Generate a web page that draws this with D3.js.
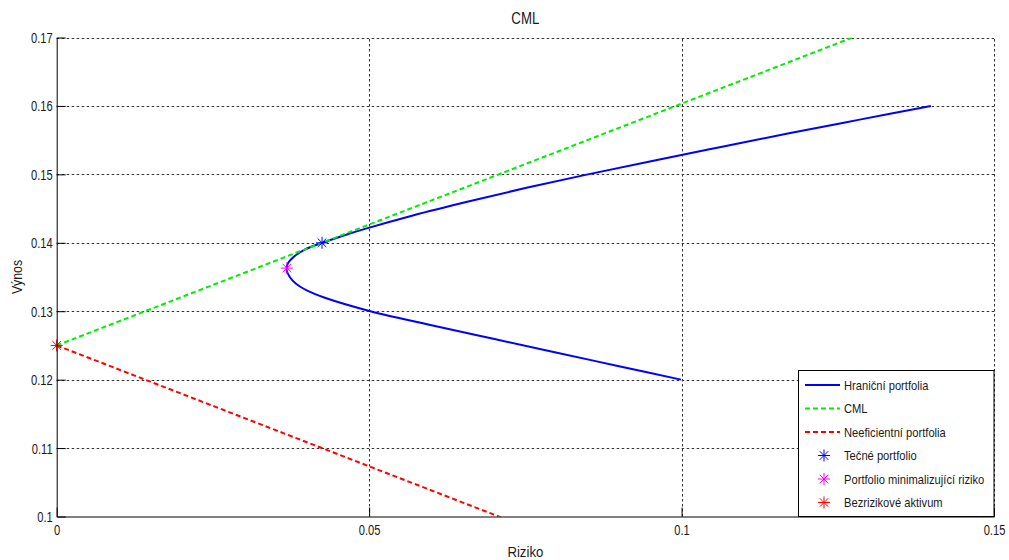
<!DOCTYPE html>
<html>
<head>
<meta charset="utf-8">
<script src="https://cdn.jsdelivr.net/npm/d3@7"></script>
<style>
  html, body { margin: 0; padding: 0; background: #fff; }
  svg { display: block; }
  text { font-family: "Liberation Sans", Arial, sans-serif; fill: #1a1a1a; }
</style>
</head>
<body>
<svg id="chart" width="1009" height="560"></svg>
<script>
// Efficient frontier (risk vs. return), capital market line and inefficient line
const xTickValues = [0, 0.05, 0.1, 0.15];
const xTickLabels = ["0", "0.05", "0.1", "0.15"];
const yTickValues = [0.1, 0.11, 0.12, 0.13, 0.14, 0.15, 0.16, 0.17];
const yTickLabels = ["0.1", "0.11", "0.12", "0.13", "0.14", "0.15", "0.16", "0.17"];

const frontierReturn = [0.120, 0.122, 0.124, 0.126, 0.128, 0.130, 0.132, 0.133, 0.134, 0.135,
                        0.136, 0.137, 0.138, 0.139, 0.140, 0.141, 0.142, 0.144, 0.146, 0.148,
                        0.150, 0.152, 0.154, 0.156, 0.158, 0.160];
const frontierRisk   = [0.0999, 0.0898, 0.0797, 0.0697, 0.0598, 0.0502, 0.0428, 0.0401, 0.0383, 0.0373,
                        0.0368, 0.0370, 0.0380, 0.0397, 0.0425, 0.0457, 0.0492, 0.0570, 0.0657, 0.0750,
                        0.0850, 0.0955, 0.1063, 0.1172, 0.1285, 0.1399];

const cmlRisk = [0, 0.15];
const cmlReturn = [0.125, 0.178];
const ineffRisk = [0, 0.15];
const ineffReturn = [0.125, 0.072];

const pointNames  = ["Tečné portfolio", "Portfolio minimalizující riziko", "Bezrizikové aktivum"];
const pointRisk   = [0.04246, 0.03685, 0];
const pointReturn = [0.1400, 0.1363, 0.125];
const pointColors = ["#0000ff", "#ff00ff", "#ff0000"];

const lineNames  = ["Hraniční portfolia", "CML", "Neeficientní portfolia"];
const lineColors = ["#0000ff", "#00ee00", "#ff0000"];
const lineDashes = [null, "5,3", "5,3"];

const svg = d3.select("#chart");
const plot = { left: 56.7, right: 994, top: 37.5, bottom: 516.5 };

const x = d3.scaleLinear().domain([0, 0.15]).range([plot.left, plot.right]);
const y = d3.scaleLinear().domain([0.1, 0.17]).range([plot.bottom, plot.top]);

svg.append("defs").append("clipPath").attr("id", "plot-clip")
  .append("rect")
  .attr("x", plot.left).attr("y", plot.top)
  .attr("width", plot.right - plot.left).attr("height", plot.bottom - plot.top);

// dotted grid
const grid = svg.append("g").attr("stroke", "#333").attr("stroke-width", 1)
  .attr("stroke-dasharray", "2.5,2.5");
grid.selectAll("line.gx").data(xTickValues.slice(1)).join("line")
  .attr("x1", d => Math.round(x(d)) + 0.5).attr("x2", d => Math.round(x(d)) + 0.5)
  .attr("y1", plot.bottom).attr("y2", plot.top);
grid.selectAll("line.gy").data(yTickValues.slice(1)).join("line")
  .attr("y1", d => Math.round(y(d)) + 0.5).attr("y2", d => Math.round(y(d)) + 0.5)
  .attr("x1", plot.left).attr("x2", plot.right);

// data lines
const lines = svg.append("g").attr("clip-path", "url(#plot-clip)").attr("fill", "none");
const line = d3.line().x(d => x(d[0])).y(d => y(d[1]));
const lineCurve = d3.line().x(d => x(d[0])).y(d => y(d[1])).curve(d3.curveCatmullRom);

lines.append("path")
  .attr("d", lineCurve(d3.zip(frontierRisk, frontierReturn)))
  .attr("stroke", lineColors[0]).attr("stroke-width", 2);
lines.append("path")
  .attr("d", line(d3.zip(cmlRisk, cmlReturn)))
  .attr("stroke", lineColors[1]).attr("stroke-width", 2).attr("stroke-dasharray", lineDashes[1]);
lines.append("path")
  .attr("d", line(d3.zip(ineffRisk, ineffReturn)))
  .attr("stroke", lineColors[2]).attr("stroke-width", 2).attr("stroke-dasharray", lineDashes[2]);

// asterisk marker
function star(g, cx, cy, color) {
  const r = 6, q = 4.3;
  const s = g.append("g").attr("stroke", color).attr("stroke-width", 1);
  [[-r, 0, r, 0], [0, -r, 0, r], [-q, -q, q, q], [-q, q, q, -q]].forEach(a => {
    s.append("line").attr("x1", cx + a[0]).attr("y1", cy + a[1])
      .attr("x2", cx + a[2]).attr("y2", cy + a[3]);
  });
}
const marks = svg.append("g");
pointRisk.forEach((r, i) => star(marks, x(r), y(pointReturn[i]), pointColors[i]));

// axes (left and bottom), ticks pointing inward
const tickSx = 0.72;
const yAxis = d3.axisLeft(y).tickValues(yTickValues)
  .tickFormat((d, i) => yTickLabels[i]).tickSizeInner(-9).tickSizeOuter(0).tickPadding(4);
const yg = svg.append("g").attr("transform", `translate(${plot.left},0)`).call(yAxis);
const xAxis = d3.axisBottom(x).tickValues(xTickValues)
  .tickFormat((d, i) => xTickLabels[i]).tickSizeInner(-9).tickSizeOuter(0).tickPadding(8);
const xg = svg.append("g").attr("transform", `translate(0,${plot.bottom})`).call(xAxis);

[yg, xg].forEach(g => {
  g.select(".domain").attr("stroke", "#000");
  g.selectAll(".tick line").attr("stroke", "#000");
  g.selectAll(".tick text").attr("font-family", "Liberation Sans, Arial, sans-serif")
    .attr("font-size", 15.5).attr("fill", "#1c1c30");
});
yg.selectAll(".tick text").attr("x", -4 / tickSx).attr("transform", `scale(${tickSx},1)`);
xg.selectAll(".tick text").attr("transform", `scale(${tickSx},1)`);

// title and axis labels
svg.append("text").attr("transform", `translate(${(plot.left + plot.right) / 2},24) scale(0.83,1)`)
  .attr("text-anchor", "middle").attr("font-size", 16).text("CML");
svg.append("text").attr("transform", `translate(${(plot.left + plot.right) / 2},557) scale(0.88,1)`)
  .attr("text-anchor", "middle").attr("font-size", 15).text("Riziko");
svg.append("text").attr("transform", `translate(22,${(plot.top + plot.bottom) / 2}) rotate(-90) scale(0.88,1)`)
  .attr("text-anchor", "middle").attr("font-size", 14).text("Výnos");

// legend
const legend = { x: 798.5, y: 370.5, w: plot.right - 798.5, h: plot.bottom - 370.5 };
const lg = svg.append("g");
lg.append("rect").attr("x", legend.x).attr("y", legend.y)
  .attr("width", legend.w).attr("height", legend.h)
  .attr("fill", "#fff").attr("stroke", "#000").attr("stroke-width", 1);
const rowY = i => 385 + i * 23.5;
lineNames.forEach((name, i) => {
  lg.append("line").attr("x1", 805).attr("x2", 840).attr("y1", rowY(i)).attr("y2", rowY(i))
    .attr("stroke", lineColors[i]).attr("stroke-width", 2)
    .attr("stroke-dasharray", lineDashes[i]);
});
pointNames.forEach((name, i) => star(lg, 824, rowY(i + 3), pointColors[i]));
lineNames.concat(pointNames).forEach((name, i) => {
  lg.append("text").attr("transform", `translate(844,${rowY(i) + 4.5}) scale(0.86,1)`)
    .attr("font-size", 13).text(name);
});
</script>
</body>
</html>
